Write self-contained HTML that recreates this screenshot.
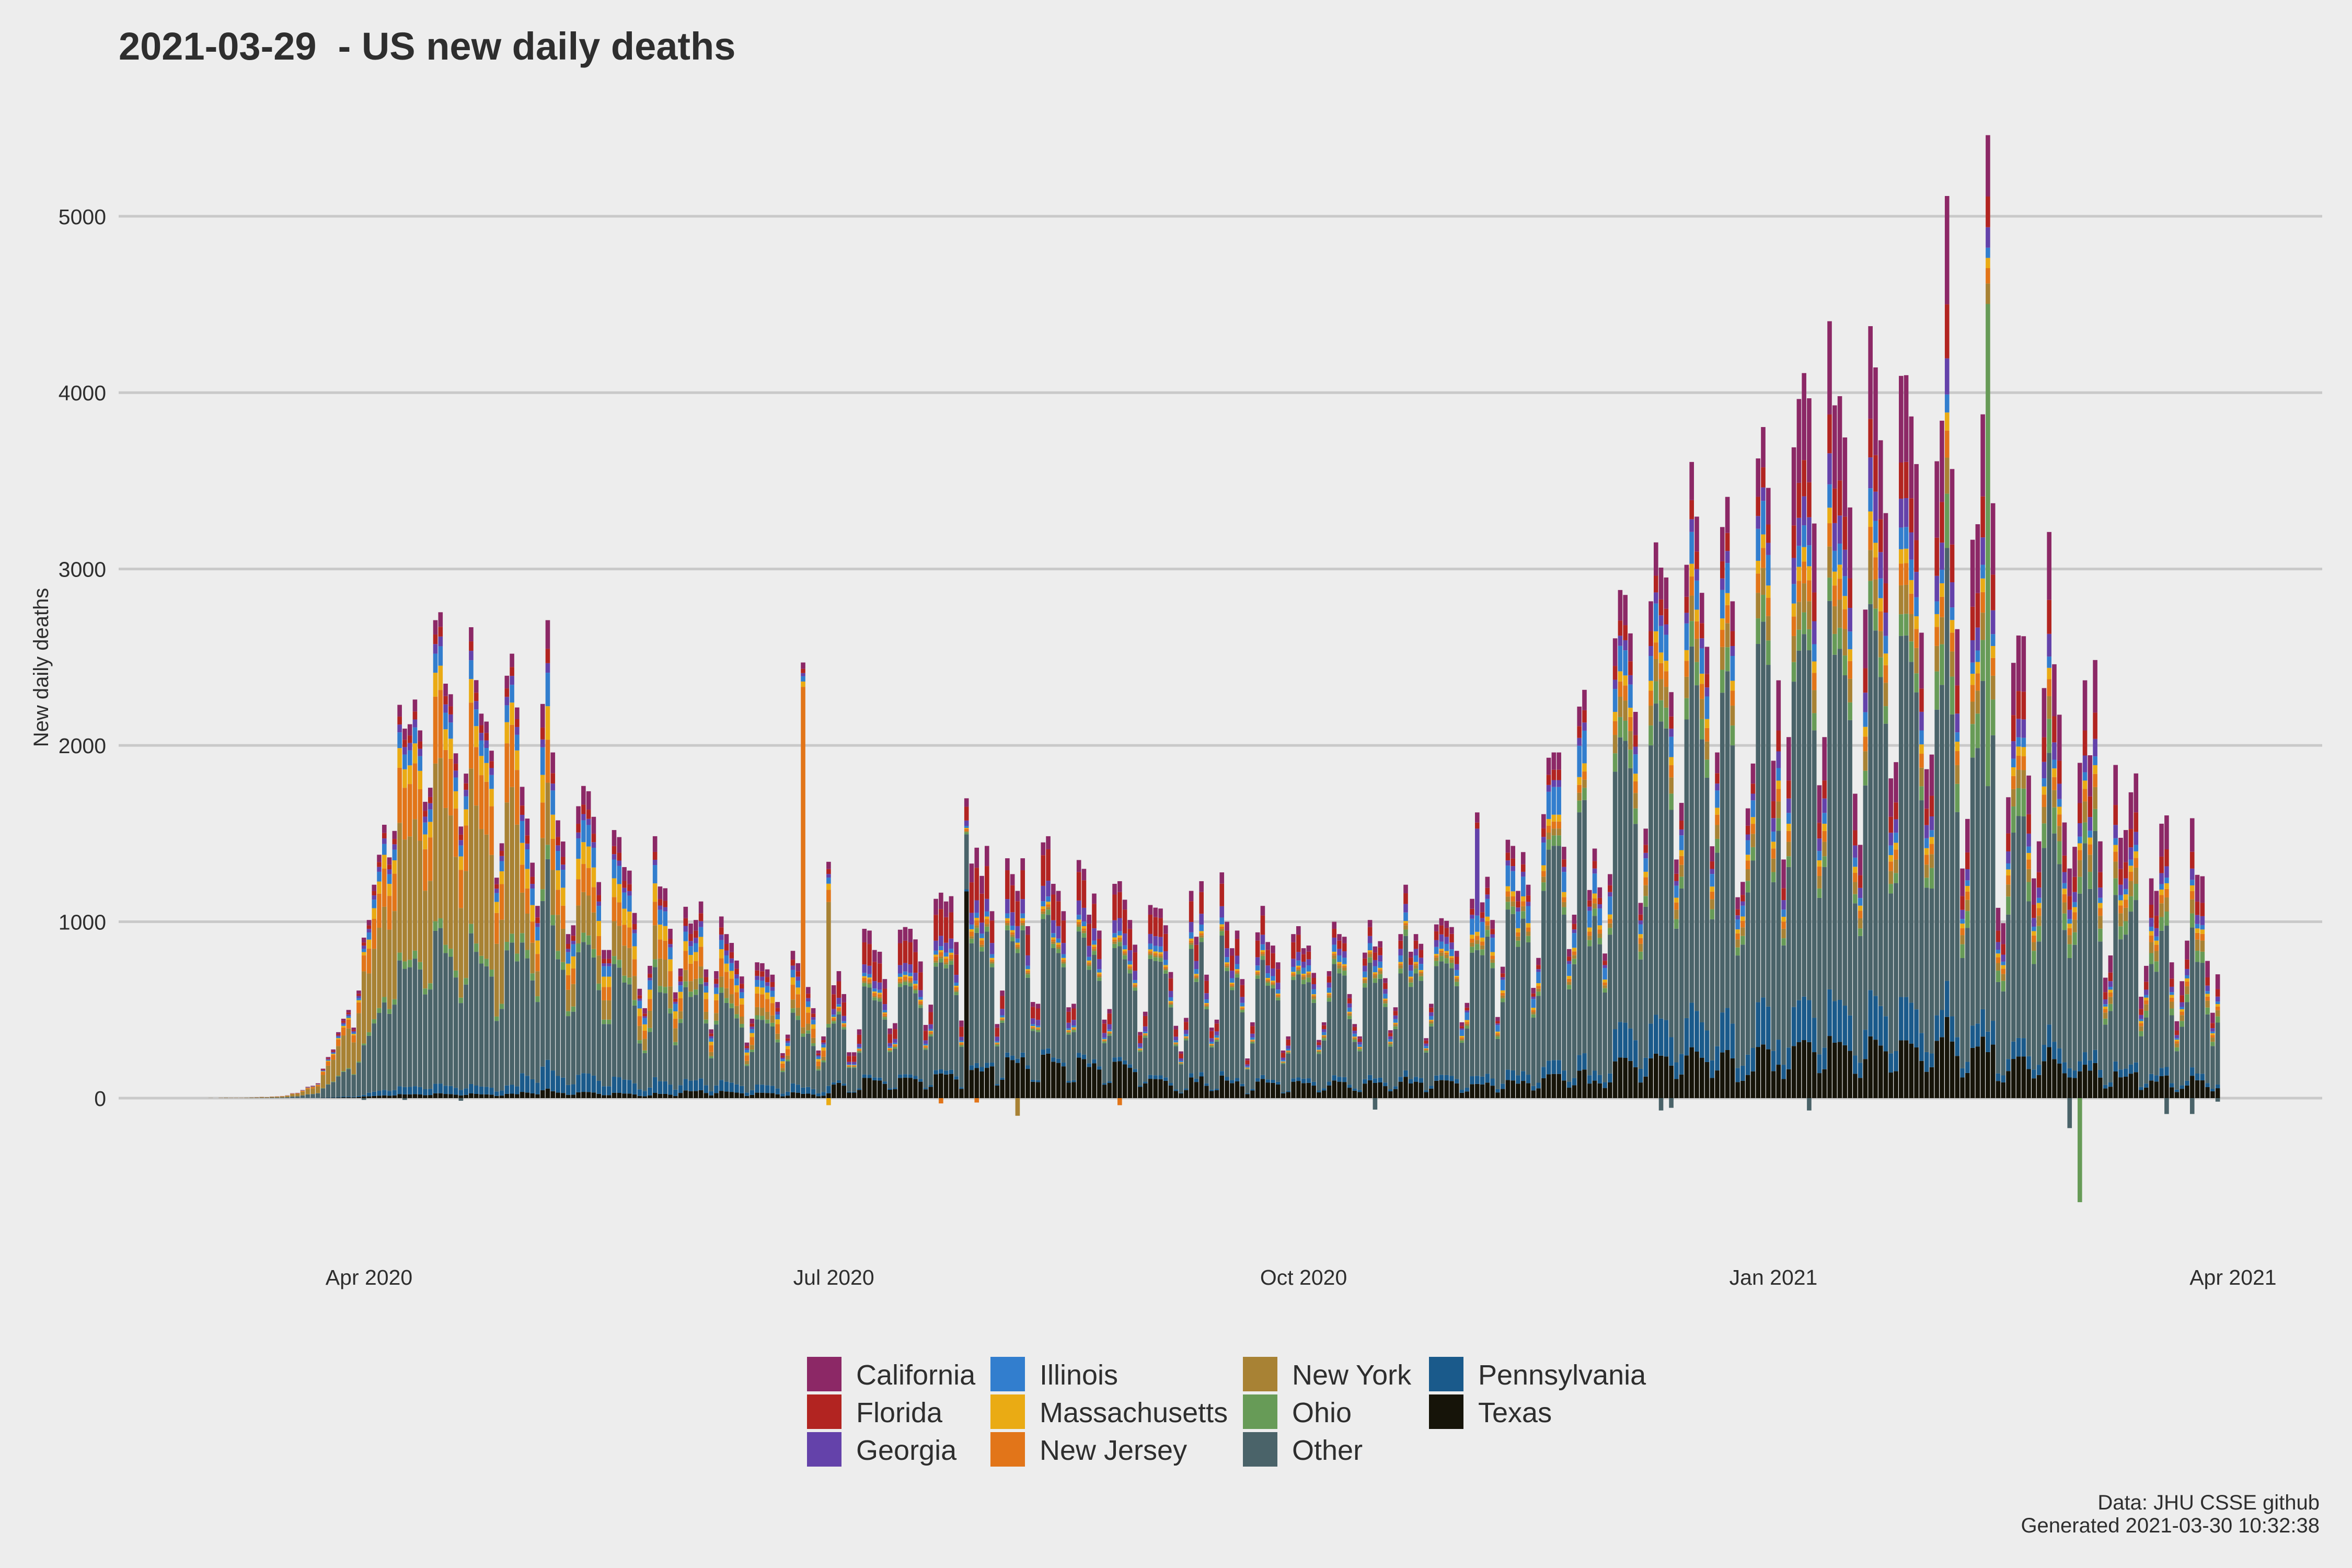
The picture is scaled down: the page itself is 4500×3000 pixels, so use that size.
<!DOCTYPE html>
<html><head><meta charset="utf-8"><title>US new daily deaths</title>
<style>
html,body{margin:0;padding:0;background:#ededed;}
svg{display:block;font-family:"Liberation Sans",Arial,sans-serif;}
</style></head>
<body>
<svg id="chart" width="4500" height="3000" viewBox="0 0 4500 3000" xmlns="http://www.w3.org/2000/svg">
<rect x="0" y="0" width="4500" height="3000" fill="#ededed"/>
<text x="227" y="114" font-size="74" font-weight="bold" fill="#2e2e2e" xml:space="preserve" style="white-space:pre">2021-03-29  - US new daily deaths</text>
<g id="grid"></g>
<g id="yticks"></g>
<g id="xticks"></g>
<g id="bars"></g>
<text x="0" y="0" transform="translate(92,1277) rotate(-90)" text-anchor="middle" font-size="40" fill="#2e2e2e">New daily deaths</text>
<g id="legend"></g>
<text x="4438" y="2888" text-anchor="end" font-size="40" fill="#2e2e2e">Data: JHU CSSE github</text>
<text x="4438" y="2932" text-anchor="end" font-size="40" fill="#2e2e2e">Generated 2021-03-30 10:32:38</text>
</svg>
<script>
// ---- data (daily totals from 2020-03-01 to 2021-03-29) ----
const startDate = "2020-03-01";
const totals = [
1,0,2,3,2,2,2,3,4,5,7,6,9,10,12,16,28,30,46,64,70,84,167,233,276,374,450,500,400,610,910,
1010,1210,1380,1550,1365,1515,2230,2095,2120,2260,2085,1680,1760,2710,2755,2350,2290,1955,1540,1840,2670,2370,2180,2135,1970,1250,1445,2395,2520,2215,
1765,1585,1335,1090,2235,2710,1960,1575,1455,930,980,1655,1770,1740,1595,1225,840,840,1520,1480,1310,1290,1050,620,510,750,1485,1200,1190,960,600,
735,1085,990,1010,1115,730,390,720,1030,930,880,780,690,315,450,770,765,730,700,545,255,360,835,765,600,630,510,270,350,690,
640,720,590,260,260,390,960,950,840,830,675,395,425,955,970,960,900,775,415,530,1130,1165,1115,1145,885,440,600,1330,1420,1260,1430,
1060,420,610,1360,1270,1175,1360,975,545,535,1450,1485,1215,1175,1060,515,535,1350,1300,1040,1160,950,445,505,1215,1230,1125,1010,870,375,490,
1095,1080,1075,980,715,410,265,455,1175,915,1230,700,400,445,1280,1000,850,950,675,225,430,940,1090,885,865,770,270,350,930,975,
850,865,710,330,430,720,1000,930,915,590,420,350,825,1010,860,890,680,385,515,930,1210,830,930,875,340,535,985,1020,1005,970,835,
430,540,1130,1150,1110,1255,1010,460,745,1465,1430,1175,1395,1210,625,795,1610,1930,1960,1960,1425,845,1040,2220,2315,1180,1415,1195,820,1270,
2607,2881,2853,2635,2190,1107,1528,2817,3151,3008,2952,2302,1353,1674,3024,3607,3297,2865,2559,1428,1960,3238,3409,2817,1139,1226,1643,1897,3627,3805,3460,
1913,2369,1353,2047,3690,3964,4111,3968,3258,1774,2047,4405,3928,3980,3746,3349,1726,1436,2770,4377,4143,3730,3317,1813,1905,4095,4099,3865,3595,2639,1865,
1948,3611,3841,5115,3567,2659,1302,1583,3166,3254,3877,2900,3373,1079,992,1706,2468,2623,2619,1829,1246,1456,2325,3210,2460,2174,1563,1302,
1425,1901,2369,1944,2484,1456,683,809,1889,1476,1520,1734,1841,575,750,1246,1175,1556,1603,770,436,663,893,1587,1266,1258,778,484,702
];
// series in stacking order (bottom -> top)
const seriesNames = ["Texas","Pennsylvania","Other","Ohio","New York","New Jersey","Massachusetts","Illinois","Georgia","Florida","California"];
const seriesColors = ["#161409","#1a5a8b","#4a6369","#679b57","#a88234","#e27519","#eaab14","#327ece","#6442aa","#b22421","#8c2866"];
// monthly share of the total, Mar 2020 .. Mar 2021
const shareTexas        = [.01,.01,.02,.04,.12,.17,.10,.10,.07,.08,.08,.09,.08];
const sharePennsylvania = [.01,.02,.06,.06,.02,.02,.02,.03,.04,.07,.06,.04,.03];
const shareOther        = [.31,.32,.42,.48,.52,.51,.60,.63,.62,.56,.50,.48,.50];
const shareOhio         = [.01,.02,.03,.03,.02,.02,.02,.03,.03,.04,.03,.06,.05];
const shareNewYork      = [.45,.33,.13,.06,.01,.01,.01,.02,.02,.04,.04,.04,.05];
const shareNewJersey    = [.10,.14,.09,.10,.02,.01,.01,.01,.02,.03,.03,.03,.03];
const shareMassachusetts= [.02,.05,.07,.05,.01,.01,.01,.01,.02,.02,.02,.02,.02];
const shareIllinois     = [.02,.04,.07,.05,.02,.02,.03,.04,.08,.05,.03,.02,.02];
const shareGeorgia      = [.02,.02,.02,.03,.05,.06,.05,.04,.02,.02,.04,.04,.04];
const shareFlorida      = [.02,.02,.03,.04,.13,.12,.10,.05,.03,.03,.05,.06,.06];
const shareCalifornia   = [.03,.03,.06,.06,.08,.05,.05,.04,.05,.06,.12,.12,.12];
// single-day reporting spikes / corrections
const spikeDates  = ["2020-06-25","2020-06-30","2020-07-27","2020-11-04","2021-02-12"];
const spikeSeries = ["New Jersey","New York","Texas","Georgia","Ohio"];
const spikeValues = [1870,650,1100,470,2560];
const negDates  = ["2020-03-31","2020-04-08","2020-04-19","2020-06-30","2020-07-22","2020-07-29","2020-08-06","2020-08-26","2020-10-15","2020-12-10","2020-12-12","2021-01-08","2021-02-28","2021-03-02","2021-03-19","2021-03-24","2021-03-29"];
const negSeries = ["Other","Other","Other","Massachusetts","New Jersey","New Jersey","New York","New Jersey","Other","Other","Other","Other","Other","Ohio","Other","Other","Other"];
const negValues = [-10,-10,-15,-40,-30,-25,-100,-40,-65,-70,-55,-70,-170,-590,-90,-90,-20];
const yTicks = [0,1000,2000,3000,4000,5000];
const xTickDates  = ["2020-04-01","2020-07-01","2020-10-01","2021-01-01","2021-04-01"];
const xTickLabels = ["Apr 2020","Jul 2020","Oct 2020","Jan 2021","Apr 2021"];

// ---- scales ----
const NS="http://www.w3.org/2000/svg";
const DAY=86400000;
function dayNum(s){return Math.round(Date.UTC(+s.slice(0,4),+s.slice(5,7)-1,+s.slice(8,10))/DAY);}
const apr1=dayNum("2020-04-01");
function xScale(dn){return 706+(dn-apr1)*9.771;}
function yScale(v){return 2101-v*0.33744;}
const barW=8.6;
function mk(tag,attrs){const e=document.createElementNS(NS,tag);for(const k in attrs)e.setAttribute(k,attrs[k]);return e;}
const shares=[shareTexas,sharePennsylvania,shareOther,shareOhio,shareNewYork,shareNewJersey,shareMassachusetts,shareIllinois,shareGeorgia,shareFlorida,shareCalifornia];

// grid + y ticks
const grid=document.getElementById('grid'), yt=document.getElementById('yticks');
yTicks.forEach(v=>{
  const l=mk('line',{x1:227,x2:4443,y1:yScale(v),y2:yScale(v),stroke:'#c9c9c9','stroke-width':5});
  
  
  grid.appendChild(l);
  const t=mk('text',{x:203,y:yScale(v)+15,'text-anchor':'end','font-size':41,fill:'#2e2e2e'});
  t.textContent=v;
  
  
  yt.appendChild(t);
});
const xt=document.getElementById('xticks');
xTickDates.forEach((d,i)=>{
  const t=mk('text',{x:xScale(dayNum(d)),y:2458,'text-anchor':'middle','font-size':41,fill:'#2e2e2e'});
  t.textContent=xTickLabels[i];
  
  
  xt.appendChild(t);
});

// bars
const bars=document.getElementById('bars');
const d0=dayNum(startDate);
totals.forEach((tot,i)=>{
  const dn=d0+i;
  const dt=new Date(dn*DAY);
  const m=(dt.getUTCFullYear()-2020)*12+dt.getUTCMonth()-2;
  const mi=Math.max(0,Math.min(12,m));
  const vals=shares.map(s=>tot*s[mi]);
  spikeDates.forEach((sd,k)=>{if(dayNum(sd)===dn)vals[seriesNames.indexOf(spikeSeries[k])]+=spikeValues[k];});
  const negs=seriesNames.map(()=>0);
  negDates.forEach((sd,k)=>{if(dayNum(sd)===dn)negs[seriesNames.indexOf(negSeries[k])]+=negValues[k];});
  const x=xScale(dn)-barW/2;
  let acc=0;
  vals.forEach((v,s)=>{
    if(v<=0)return;
    const r=mk('rect',{x:x,y:yScale(acc+v),width:barW,height:yScale(acc)-yScale(acc+v),fill:seriesColors[s]});
    
    
    bars.appendChild(r);
    acc+=v;
  });
  let nacc=0;
  negs.forEach((v,s)=>{
    if(v>=0)return;
    const r=mk('rect',{x:x,y:yScale(nacc),width:barW,height:yScale(nacc+v)-yScale(nacc),fill:seriesColors[s]});
    
    
    bars.appendChild(r);
    nacc+=v;
  });
});

// legend
const legendOrder=["California","Florida","Georgia","Illinois","Massachusetts","New Jersey","New York","Ohio","Other","Pennsylvania","Texas"];
const colKeyX=[1544,1895,2378,2734];
const rowY=[2596,2668,2740];
const lg=document.getElementById('legend');
legendOrder.forEach((n,i)=>{
  const c=Math.floor(i/3), r=i%3;
  const col=seriesColors[seriesNames.indexOf(n)];
  const k=mk('rect',{x:colKeyX[c],y:rowY[r],width:66,height:66,fill:col});
  
  
  lg.appendChild(k);
  const t=mk('text',{x:colKeyX[c]+94,y:rowY[r]+53,'font-size':54,fill:'#2e2e2e'});
  t.textContent=n;
  
  
  lg.appendChild(t);
});
</script>
</body></html>
